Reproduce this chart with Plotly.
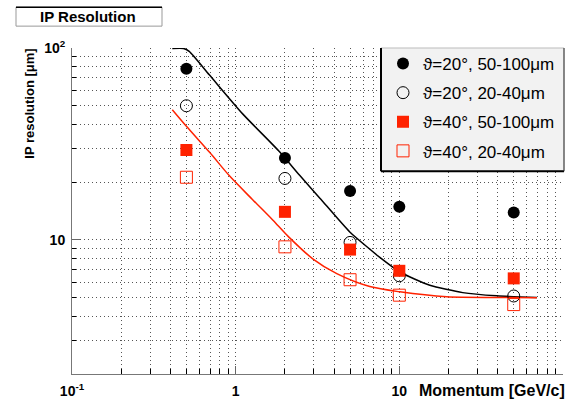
import plotly.graph_objects as go

# ---- data ----
momentum = [0.5, 2, 5, 10, 50]
th20_50_100 = [78, 26.7, 18.0, 14.9, 13.9]
th20_20_40 = [50, 20.9, 9.7, 6.5, 5.1]
th40_50_100 = [29.4, 14.0, 8.9, 6.9, 6.3]
th40_20_40 = [21.2, 9.2, 6.2, 5.15, 4.6]

curve20_x = [0.41, 0.48, 0.52, 0.69, 1.10, 1.86, 2.46, 3.27, 4.98, 6.60, 7.6, 10.07, 15.35, 24.4, 39.4, 69.3]
curve20_y = [99.5, 99.5, 96, 72.5, 45.5, 28.7, 21.7, 16.5, 11.0, 8.95, 8.1, 6.8, 5.8, 5.31, 5.11, 5.01]
curve40_x = [0.41, 0.50, 0.693, 0.919, 1.27, 1.684, 2.1, 2.958, 4.147, 6.60, 10.07, 19.5, 39.4, 69.3]
curve40_y = [47.7, 39.1, 28.6, 21.5, 16.2, 12.7, 10.4, 7.97, 6.67, 5.71, 5.36, 5.05, 5.01, 5.0]

x_major = [0.1, 1, 10, 100]
x_major_text = ["<b>10<sup>-1</sup></b>", "<b>1</b>", "<b>10</b>", "<b>10<sup>2</sup></b>"]
x_minor = [m * 10 ** e for e in (-1, 0, 1) for m in range(2, 10)]
y_major = [10, 100]
y_major_text = ["<b>10</b>", "<b>10<sup>2</sup></b>"]
y_minor = [m for m in range(2, 10)] + [m * 10 for m in range(2, 10)]

labels = ["ϑ=20°, 50-100μm", "ϑ=20°, 20-40μm", "ϑ=40°, 50-100μm", "ϑ=40°, 20-40μm"]

RED = "#ff2200"
FONT = "Liberation Sans, Arial, Helvetica, sans-serif"
GRID = "#555555"
GDASH = "1px,3px"

fig = go.Figure()
fig.add_trace(go.Scatter(x=curve20_x, y=curve20_y, mode="lines",
                         line=dict(color="black", width=1.5, shape="spline", smoothing=0.6),
                         showlegend=False, hoverinfo="skip"))
fig.add_trace(go.Scatter(x=curve40_x, y=curve40_y, mode="lines",
                         line=dict(color=RED, width=1.5, shape="spline", smoothing=0.8),
                         showlegend=False, hoverinfo="skip"))

fig.add_trace(go.Scatter(x=momentum, y=th20_50_100, mode="markers", name=labels[0], legendgroup="a",
                         marker=dict(symbol="circle", size=12, color="black")))
fig.add_trace(go.Scatter(x=momentum, y=th20_20_40, mode="markers", name=labels[1], legendgroup="b",
                         marker=dict(symbol="circle-open", size=12, color="black", line=dict(width=1))))
fig.add_trace(go.Scatter(x=momentum, y=th40_50_100, mode="markers", name=labels[2], legendgroup="c",
                         marker=dict(symbol="square", size=12, color=RED)))
fig.add_trace(go.Scatter(x=momentum, y=th40_20_40, mode="markers", name=labels[3], legendgroup="d",
                         marker=dict(symbol="square-open", size=12, color=RED, line=dict(width=1))))

W, H = 573, 409
L, R, T, B = 72, 10, 48, 33
pw, ph = W - L - R, H - T - B


def px(x):
    return (x - L) / pw


def py(y):
    return (H - B - y) / ph


axis_common = dict(type="log", showgrid=True, gridcolor=GRID, griddash=GDASH, gridwidth=1,
                   ticks="inside", ticklen=8, tickcolor="#666", showline=True, linecolor="#777",
                   linewidth=1, mirror=False, zeroline=False,
                   tickfont=dict(family=FONT, size=14, color="black"), tickmode="array")

fig.update_xaxes(range=[-1, 2], tickvals=x_major, ticktext=x_major_text, ticklabelstandoff=4,
                 minor=dict(tickvals=x_minor, ticks="inside", ticklen=5, tickcolor="black",
                            showgrid=True, gridcolor=GRID, griddash=GDASH, gridwidth=1),
                 **axis_common)
fig.update_yaxes(range=[0.30103, 2], tickvals=y_major, ticktext=y_major_text, ticklabelstandoff=3,
                 minor=dict(tickvals=y_minor, ticks="inside", ticklen=4, tickcolor="black",
                            showgrid=True, gridcolor=GRID, griddash=GDASH, gridwidth=1),
                 **axis_common)

shapes = [
    # title box
    dict(type="rect", xref="paper", yref="paper", x0=px(16), x1=px(162), y0=py(26), y1=py(7),
         line=dict(color="#999", width=1), fillcolor="white", layer="above"),
    dict(type="line", xref="paper", yref="paper", x0=px(16), x1=px(162), y0=py(7), y1=py(7),
         line=dict(color="black", width=1.5), layer="above"),
    # legend box
    dict(type="rect", xref="paper", yref="paper", x0=px(381), x1=px(564), y0=py(172), y1=py(48),
         line=dict(color="#bbb", width=1), fillcolor="#f2f2f2", layer="above"),
    dict(type="line", xref="paper", yref="paper", x0=px(381), x1=px(381), y0=py(172), y1=py(48),
         line=dict(color="black", width=2), layer="above"),
    dict(type="line", xref="paper", yref="paper", x0=px(381), x1=px(564), y0=py(172), y1=py(172),
         line=dict(color="black", width=2), layer="above"),
    dict(type="line", xref="paper", yref="paper", x0=px(564), x1=px(564), y0=py(172), y1=py(48),
         line=dict(color="#333", width=1), layer="above"),
]

annotations = [
    dict(text="<b>IP Resolution</b>", xref="paper", yref="paper", x=px(88), y=py(16.5),
         xanchor="center", yanchor="middle", showarrow=False, font=dict(family=FONT, size=15, color="black")),
    dict(text="<b>IP resolution [μm]</b>", xref="paper", yref="paper", x=px(30), y=py(104),
         xanchor="center", yanchor="middle", textangle=-90, showarrow=False,
         font=dict(family=FONT, size=13, color="black")),
    dict(text="<b>Momentum [GeV/c]</b>", xref="paper", yref="paper", x=px(567), y=py(393),
         xanchor="right", yanchor="middle", showarrow=False, font=dict(family=FONT, size=16, color="black")),
]

fig.update_layout(
    width=W, height=H,
    margin=dict(l=L, r=R, t=T, b=B),
    paper_bgcolor="white", plot_bgcolor="white",
    shapes=shapes, annotations=annotations,
    showlegend=True,
    legend=dict(x=px(383), y=py(46), xanchor="left", yanchor="top", bgcolor="rgba(0,0,0,0)",
                borderwidth=0, font=dict(family=FONT, size=17, color="black"), tracegroupgap=4,
                itemclick=False),
    font=dict(family=FONT),
)

fig.write_html("out.html", config={"displayModeBar": False},
               post_script="document.body.style.margin='0';document.body.style.padding='0';")
